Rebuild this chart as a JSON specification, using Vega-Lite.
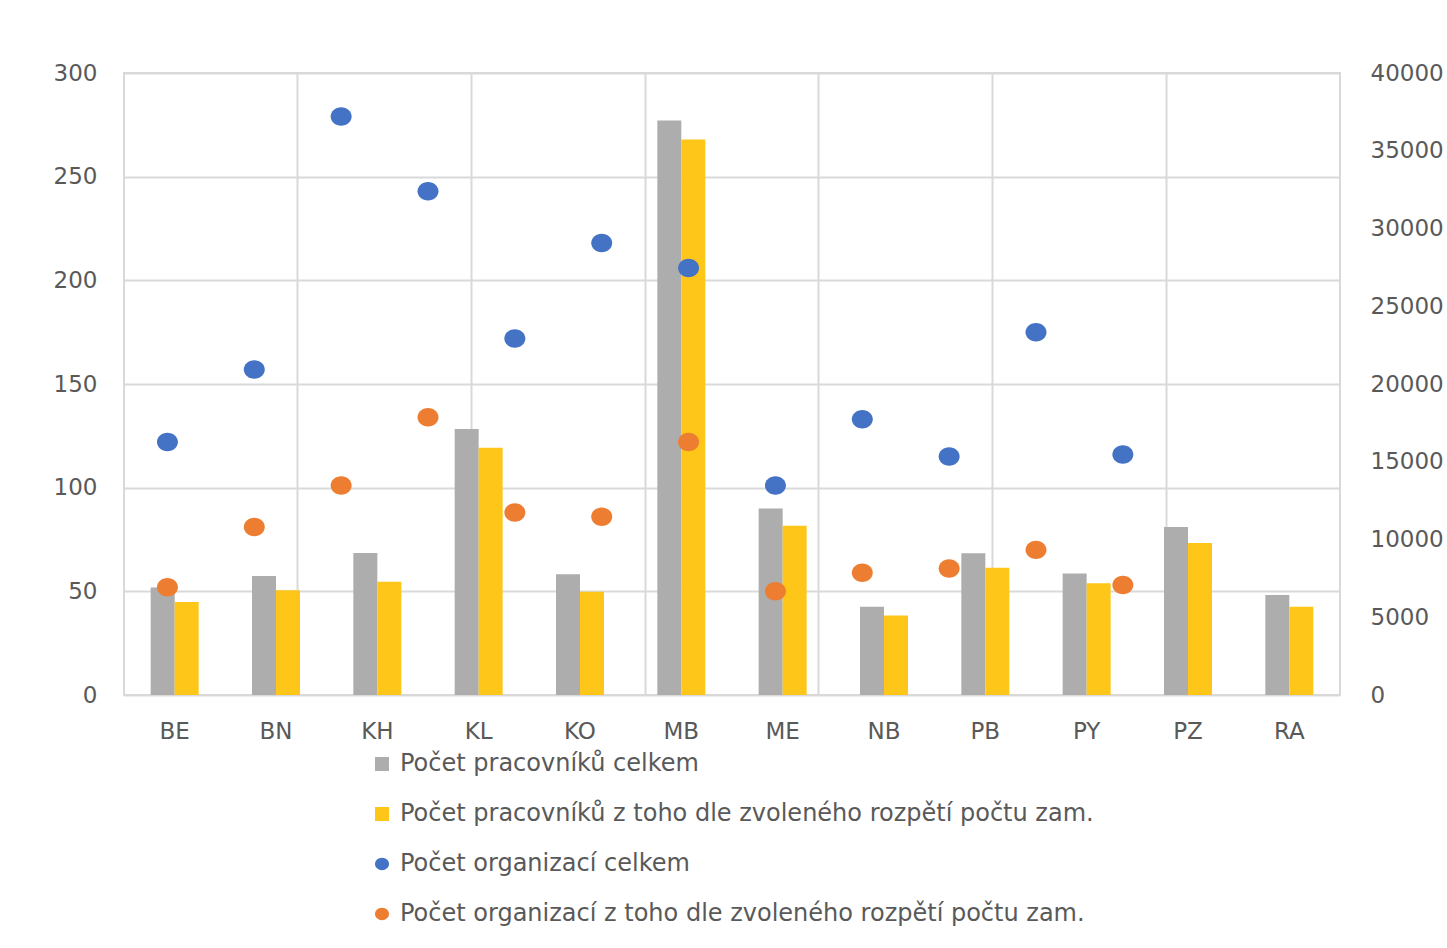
{
  "$schema": "https://vega.github.io/schema/vega-lite/v6.json",
  "width": 1216,
  "height": 622,
  "autosize": {"type": "none"},
  "padding": {"left": 124, "top": 73, "right": 107, "bottom": 253},
  "background": "white",
  "config": {
    "font": "DejaVu Sans",
    "view": {"stroke": "#d9d9d9", "strokeWidth": 2},
    "axis": {
      "labelFont": "DejaVu Sans",
      "labelFontSize": 23,
      "labelColor": "#595959",
      "ticks": false,
      "tickSize": 0,
      "domain": false,
      "gridColor": "#d9d9d9",
      "gridWidth": 2
    }
  },
  "datasets": {
    "workers": [
      {"district": "BE", "series": "Počet pracovníků celkem", "value": 6920},
      {"district": "BE", "series": "Počet pracovníků z toho dle zvoleného rozpětí počtu zam.", "value": 5980},
      {"district": "BN", "series": "Počet pracovníků celkem", "value": 7650},
      {"district": "BN", "series": "Počet pracovníků z toho dle zvoleného rozpětí počtu zam.", "value": 6730},
      {"district": "KH", "series": "Počet pracovníků celkem", "value": 9130},
      {"district": "KH", "series": "Počet pracovníků z toho dle zvoleného rozpětí počtu zam.", "value": 7280},
      {"district": "KL", "series": "Počet pracovníků celkem", "value": 17100},
      {"district": "KL", "series": "Počet pracovníků z toho dle zvoleného rozpětí počtu zam.", "value": 15900},
      {"district": "KO", "series": "Počet pracovníků celkem", "value": 7760},
      {"district": "KO", "series": "Počet pracovníků z toho dle zvoleného rozpětí počtu zam.", "value": 6640},
      {"district": "MB", "series": "Počet pracovníků celkem", "value": 36940},
      {"district": "MB", "series": "Počet pracovníků z toho dle zvoleného rozpětí počtu zam.", "value": 35720},
      {"district": "ME", "series": "Počet pracovníků celkem", "value": 12000},
      {"district": "ME", "series": "Počet pracovníků z toho dle zvoleného rozpětí počtu zam.", "value": 10880},
      {"district": "NB", "series": "Počet pracovníků celkem", "value": 5680},
      {"district": "NB", "series": "Počet pracovníků z toho dle zvoleného rozpětí počtu zam.", "value": 5120},
      {"district": "PB", "series": "Počet pracovníků celkem", "value": 9110},
      {"district": "PB", "series": "Počet pracovníků z toho dle zvoleného rozpětí počtu zam.", "value": 8180},
      {"district": "PY", "series": "Počet pracovníků celkem", "value": 7820},
      {"district": "PY", "series": "Počet pracovníků z toho dle zvoleného rozpětí počtu zam.", "value": 7180},
      {"district": "PZ", "series": "Počet pracovníků celkem", "value": 10800},
      {"district": "PZ", "series": "Počet pracovníků z toho dle zvoleného rozpětí počtu zam.", "value": 9770},
      {"district": "RA", "series": "Počet pracovníků celkem", "value": 6430},
      {"district": "RA", "series": "Počet pracovníků z toho dle zvoleného rozpětí počtu zam.", "value": 5680}
    ],
    "orgs": [
      {"district": "BE", "series": "Počet organizací celkem", "value": 122},
      {"district": "BN", "series": "Počet organizací celkem", "value": 157},
      {"district": "KH", "series": "Počet organizací celkem", "value": 279},
      {"district": "KL", "series": "Počet organizací celkem", "value": 243},
      {"district": "KO", "series": "Počet organizací celkem", "value": 172},
      {"district": "MB", "series": "Počet organizací celkem", "value": 218},
      {"district": "ME", "series": "Počet organizací celkem", "value": 206},
      {"district": "NB", "series": "Počet organizací celkem", "value": 101},
      {"district": "PB", "series": "Počet organizací celkem", "value": 133},
      {"district": "PY", "series": "Počet organizací celkem", "value": 115},
      {"district": "PZ", "series": "Počet organizací celkem", "value": 175},
      {"district": "RA", "series": "Počet organizací celkem", "value": 116},
      {"district": "BE", "series": "Počet organizací z toho dle zvoleného rozpětí počtu zam.", "value": 52},
      {"district": "BN", "series": "Počet organizací z toho dle zvoleného rozpětí počtu zam.", "value": 81},
      {"district": "KH", "series": "Počet organizací z toho dle zvoleného rozpětí počtu zam.", "value": 101},
      {"district": "KL", "series": "Počet organizací z toho dle zvoleného rozpětí počtu zam.", "value": 134},
      {"district": "KO", "series": "Počet organizací z toho dle zvoleného rozpětí počtu zam.", "value": 88},
      {"district": "MB", "series": "Počet organizací z toho dle zvoleného rozpětí počtu zam.", "value": 86},
      {"district": "ME", "series": "Počet organizací z toho dle zvoleného rozpětí počtu zam.", "value": 122},
      {"district": "NB", "series": "Počet organizací z toho dle zvoleného rozpětí počtu zam.", "value": 50},
      {"district": "PB", "series": "Počet organizací z toho dle zvoleného rozpětí počtu zam.", "value": 59},
      {"district": "PY", "series": "Počet organizací z toho dle zvoleného rozpětí počtu zam.", "value": 61},
      {"district": "PZ", "series": "Počet organizací z toho dle zvoleného rozpětí počtu zam.", "value": 70},
      {"district": "RA", "series": "Počet organizací z toho dle zvoleného rozpětí počtu zam.", "value": 53}
    ]
  },
  "layer": [
    {
      "data": {"name": "workers"},
      "mark": {"type": "bar"},
      "encoding": {
        "x": {
          "field": "district", "type": "nominal", "sort": null,
          "scale": {"type": "band", "domain": ["BE","BN","KH","KL","KO","MB","ME","NB","PB","PY","PZ","RA"], "paddingInner": 0.5263, "paddingOuter": 0.2632},
          "axis": {"orient": "bottom", "title": null, "labelAngle": 0, "labelPadding": 25, "grid": false}
        },
        "xOffset": {
          "field": "series", "type": "nominal",
          "scale": {"domain": ["Počet pracovníků celkem", "Počet pracovníků z toho dle zvoleného rozpětí počtu zam."], "paddingInner": 0, "paddingOuter": 0}
        },
        "y": {
          "field": "value", "type": "quantitative",
          "scale": {"domain": [0, 40000], "nice": false, "zero": true},
          "axis": {"orient": "right", "title": null, "grid": false, "values": [0,5000,10000,15000,20000,25000,30000,35000,40000], "format": "d", "labelPadding": 30}
        },
        "color": {
          "field": "series", "type": "nominal",
          "scale": {
            "domain": ["Počet pracovníků celkem", "Počet pracovníků z toho dle zvoleného rozpětí počtu zam.", "Počet organizací celkem", "Počet organizací z toho dle zvoleného rozpětí počtu zam."],
            "range": ["#adadad", "#ffc61a", "#4472c4", "#ed7d31"]
          },
          "legend": {
            "title": null, "orient": "none", "legendX": 246, "legendY": 679, "direction": "vertical",
            "labelFontSize": 24, "labelColor": "#595959", "labelFont": "DejaVu Sans", "labelLimit": 1200,
            "symbolSize": 196, "symbolStrokeWidth": 0, "rowPadding": 26, "labelOffset": 6, "padding": 0
          }
        }
      }
    },
    {
      "data": {"name": "orgs"},
      "mark": {"type": "point", "filled": true, "size": 441, "opacity": 1},
      "encoding": {
        "x": {
          "field": "district", "type": "nominal", "sort": null,
          "scale": {"type": "band", "domain": ["BE","BN","KH","KL","KO","MB","ME","NB","PB","PY","PZ","RA"], "paddingInner": 0, "paddingOuter": 1, "align": 0},
          "axis": {"orient": "bottom", "title": null, "labels": false, "grid": true, "values": ["BN","KL","MB","NB","PY","RA"], "bandPosition": 1}
        },
        "y": {
          "field": "value", "type": "quantitative",
          "scale": {"domain": [0, 300], "nice": false},
          "axis": {"orient": "left", "title": null, "grid": true, "values": [0,50,100,150,200,250,300], "labelPadding": 27}
        },
        "color": {
          "field": "series", "type": "nominal",
          "scale": {
            "domain": ["Počet pracovníků celkem", "Počet pracovníků z toho dle zvoleného rozpětí počtu zam.", "Počet organizací celkem", "Počet organizací z toho dle zvoleného rozpětí počtu zam."],
            "range": ["#adadad", "#ffc61a", "#4472c4", "#ed7d31"]
          }
        },
        "shape": {
          "field": "series", "type": "nominal",
          "scale": {
            "domain": ["Počet pracovníků celkem", "Počet pracovníků z toho dle zvoleného rozpětí počtu zam.", "Počet organizací celkem", "Počet organizací z toho dle zvoleného rozpětí počtu zam."],
            "range": ["square", "square", "M-1,0A1,0.88,0,1,1,1,0A1,0.88,0,1,1,-1,0Z", "M-1,0A1,0.88,0,1,1,1,0A1,0.88,0,1,1,-1,0Z"]
          }
        }
      }
    }
  ],
  "resolve": {
    "scale": {"x": "independent", "y": "independent"},
    "axis": {"x": "independent", "y": "independent"}
  }
}
